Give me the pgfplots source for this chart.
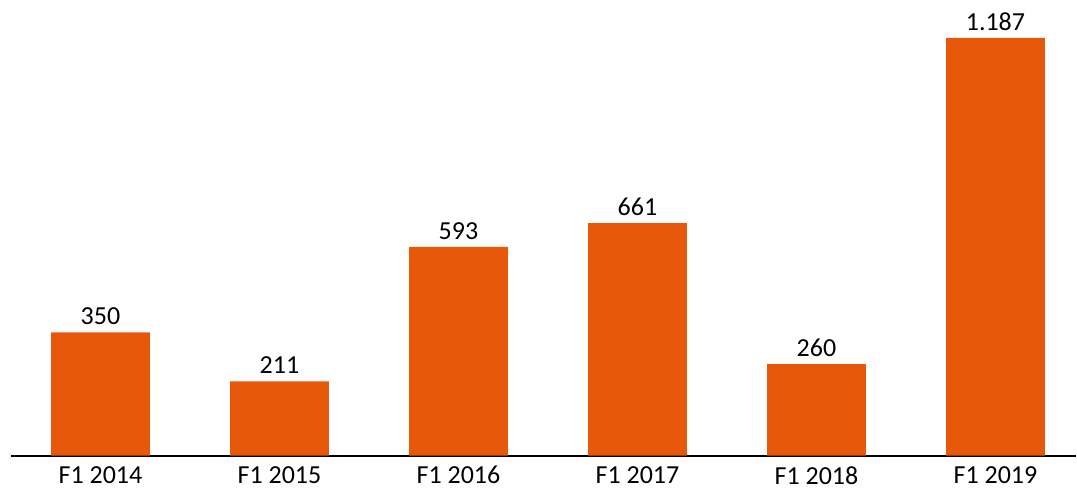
\documentclass[border=0pt]{standalone}
\usepackage{pgfplots}
\pgfplotsset{compat=1.18}
\usepackage{fontspec}
\setmainfont{Carlito}
\definecolor{barorange}{HTML}{E8580A}
\begin{document}
\begin{tikzpicture}[x=1pt,y=1pt]
\begin{axis}[
  at={(0pt,0pt)}, anchor=south west,
  scale only axis,
  width=1066pt, height=456pt,
  xmin=-0.5, xmax=5.45,
  ymin=0, ymax=1295,
  axis y line=none,
  axis x line*=bottom,
  x axis line style={line width=2pt, -},
  xtick=data,
  xticklabels={F1 2014,F1 2015,F1 2016,F1 2017,F1 2018,F1 2019},
  xtick style={draw=none},
  xticklabel style={font=\fontsize{26}{30}\selectfont, yshift=-3pt},
  ybar, bar width=99pt,
  nodes near coords,
  nodes near coords style={font=\fontsize{26}{30}\selectfont, text=black, yshift=4pt},
  point meta=explicit symbolic,
  clip=false,
]
\addplot[fill=barorange, draw=none] coordinates {
  (0,350) [350]
  (1,211) [211]
  (2,593) [593]
  (3,661) [661]
  (4,260) [260]
  (5,1187) [1.187]
};
\end{axis}
\useasboundingbox (-11pt,-34pt) rectangle (1066pt,456pt);
\end{tikzpicture}
\end{document}
